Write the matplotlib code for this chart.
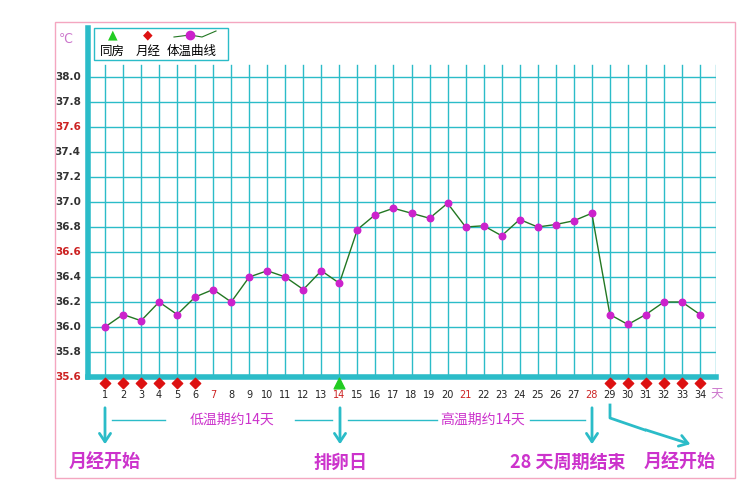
import matplotlib
matplotlib.use("Agg")
import matplotlib.pyplot as plt
from matplotlib.patches import Rectangle

plt.rcParams['font.family'] = ['Noto Sans CJK SC', 'DejaVu Sans']

days = list(range(1, 35))
temps = [36.0, 36.1, 36.05, 36.2, 36.1, 36.24, 36.3, 36.2, 36.4, 36.45, 36.4, 36.3, 36.45, 36.35,
         36.78, 36.9, 36.95, 36.91, 36.87, 36.99, 36.8, 36.81, 36.73, 36.86, 36.8, 36.82, 36.85, 36.91,
         36.1, 36.02, 36.1, 36.2, 36.2, 36.1]
period_days = [1, 2, 3, 4, 5, 6, 29, 30, 31, 32, 33, 34]
sex_days = [14]
yticks = [round(35.6 + 0.2 * i, 1) for i in range(13)]
red_y = [37.6, 36.6, 35.6]
red_x = [7, 14, 21, 28]

W, H = 750, 487
fig = plt.figure(figsize=(7.5, 4.87), dpi=100)
def P(x, y):
    return (x / W, 1 - y / H)

fig.patches.append(Rectangle(P(55, 478), 680 / W, 456 / H, transform=fig.transFigure,
                             fill=False, ec='#f4a6c0', lw=1))

x0, x1 = P(88, 377)[0], P(716, 377)[0]
ax = fig.add_axes([x0, 1 - 377 / H, x1 - x0, 349 / H])
ax.set_xlim(1 - 17 / 18.03, 34 + 16 / 18.03)
ax.set_ylim(35.6, 35.6 + 349 * 0.008)
ax.axis('off')
grid = '#2bbcc8'
for d in days:
    ax.plot([d, d], [35.6, 38.1], color=grid, lw=1, zorder=1)
ax.plot([34 + 16 / 18.03] * 2, [35.6, 38.1], color=grid, lw=1)
for v in yticks:
    ax.plot([ax.get_xlim()[0], ax.get_xlim()[1]], [v, v], color=grid, lw=1, zorder=1)
ax.plot([ax.get_xlim()[0]] * 2, [35.6, ax.get_ylim()[1]], color=grid, lw=4, clip_on=False)
ax.plot([ax.get_xlim()[0], ax.get_xlim()[1]], [35.6, 35.6], color=grid, lw=4, clip_on=False)

for v in yticks:
    ax.text(ax.get_xlim()[0] - 0.4, v, f"{v:.1f}", ha='right', va='center', fontsize=7.5,
            fontweight='bold', color='#cc2222' if v in red_y else '#333333', family='DejaVu Sans')
ax.text(-1.2, 38.3, "℃", color='#cc77cc', fontsize=9, ha='center', va='center', family='DejaVu Sans')

ax.plot(days, temps, color='#227722', lw=1, zorder=3)
ax.scatter(days, temps, s=22, color='#cc22cc', zorder=4)

ax.scatter(period_days, [35.552] * len(period_days), marker='D', s=28, color='#dd1111', clip_on=False, zorder=5)
ax.scatter(sex_days, [35.552], marker='^', s=60, color='#22cc22', clip_on=False, zorder=5)
for d in days:
    ax.text(d, 35.456, str(d), ha='center', va='center', fontsize=7,
            color='#cc2222' if d in red_x else '#222222', family='DejaVu Sans')
ax.text(34.9, 35.456, "天", ha='center', va='center', fontsize=9, color='#cc77cc')

# legend box
fig.patches.append(Rectangle(P(94, 60), 134 / W, 32 / H, transform=fig.transFigure,
                             fill=True, fc='white', ec=grid, lw=1, zorder=5))
fig.text(*P(113, 35), "▲", color='#22cc22', fontsize=9, ha='center', va='center', family='DejaVu Sans', zorder=6)
fig.text(*P(148, 35), "◆", color='#dd1111', fontsize=9, ha='center', va='center', family='DejaVu Sans', zorder=6)
fig.lines.append(plt.Line2D([174/W, 190/W, 202/W, 216/W], [1-37/H, 1-35/H, 1-37/H, 1-31/H],
                            transform=fig.transFigure, color='#227722', lw=0.8, zorder=6))
fig.lines.append(plt.Line2D([190/W], [1-35/H], transform=fig.transFigure, marker='o', ms=6,
                            color='#cc22cc', zorder=7))
for x, t in [(112, "同房"), (148, "月经"), (192, "体温曲线")]:
    fig.text(*P(x, 51), t, fontsize=9, ha='center', va='center', zorder=6)

mag = '#cc33cc'
cy = '#2bbcc8'
def arrow(xa, ya, xb, yb):
    fig.add_artist(matplotlib.patches.FancyArrowPatch(P(xa, ya), P(xb, yb), transform=fig.transFigure,
                   arrowstyle='->,head_length=6,head_width=4', color=cy, lw=2))
def line(xs, ys):
    fig.lines.append(plt.Line2D([x / W for x in xs], [1 - y / H for y in ys], transform=fig.transFigure,
                                color=cy, lw=1))
for x in [105, 340, 592]:
    arrow(x, 405, x, 447)
fig.lines.append(plt.Line2D([610/W, 610/W, 645/W], [1-405/H, 1-418/H, 1-430/H], transform=fig.transFigure, color=cy, lw=2))
arrow(643, 429, 693, 445)
line([112, 165], [420, 420]); line([295, 332], [420, 420])
line([348, 437], [420, 420]); line([530, 585], [420, 420])
fig.text(*P(232, 420), "低温期约14天", color=mag, fontsize=10, ha='center', va='center')
fig.text(*P(483, 420), "高温期约14天", color=mag, fontsize=10, ha='center', va='center')
fig.text(*P(105, 462), "月经开始", color=mag, fontsize=13, ha='center', va='center', fontweight='bold')
fig.text(*P(340, 462), "排卵日", color=mag, fontsize=13, ha='center', va='center', fontweight='bold')
fig.text(*P(568, 462), "28 天周期结束", color=mag, fontsize=13, ha='center', va='center', fontweight='bold')
fig.text(*P(680, 462), "月经开始", color=mag, fontsize=13, ha='center', va='center', fontweight='bold')

fig.savefig("out.png", dpi=100)
